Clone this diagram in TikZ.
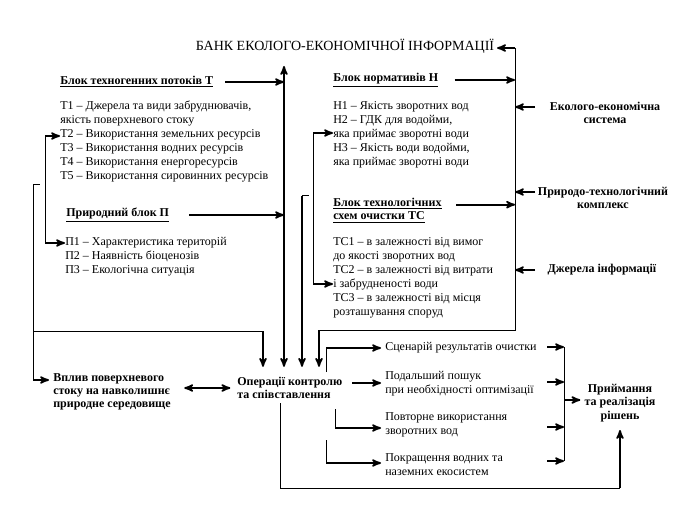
\documentclass[tikz,border=0pt]{standalone}
\usepackage{fontspec}
\setmainfont{Liberation Serif}
\usepackage{tikz}
\usetikzlibrary{arrows,positioning}
\tikzset{
    %Define standard arrow tip
    >=stealth',
    %Define style for plain text blocks
    txt/.style={
           inner sep=0pt,
           align=left,
           font=\fontsize{9}{10.5}\selectfont},
    %Define style for bold blocks
    boldtxt/.style={
           inner sep=0pt,
           align=center,
           font=\fontsize{9}{10}\selectfont\bfseries},
    %Define style for underlined block titles
    head/.style={
           boldtxt,
           align=left},
    % Define line styles
    ln/.style={
           line width=0.75pt},
    pil/.style={
           ->,
           line width=1.3pt},
}

\begin{document}
\begin{tikzpicture}[x=0.75pt,y=-0.75pt]
\useasboundingbox (0,0) rectangle (690,510);
% text blocks
\node[txt, font=\fontsize{10.5}{12}\selectfont, inner sep=2pt](1) at (345,46){БАНК ЕКОЛОГО-ЕКОНОМІЧНОЇ ІНФОРМАЦІЇ};
\node[head, anchor=west](2) at (60,82){\underline{Блок техногенних потоків Т}};
\node[txt, anchor=north west](3) at (60,101){Т1 – Джерела та види забруднювачів,\\якість поверхневого стоку\\Т2 – Використання земельних ресурсів\\Т3 – Використання водних ресурсів\\Т4 – Використання енергоресурсів\\Т5 – Використання сировинних ресурсів};
\node[head, anchor=west](4) at (66,215){\underline{Природний блок П}};
\node[txt, anchor=north west](5) at (65,237){П1 – Характеристика територій\\П2 – Наявність біоценозів\\П3 – Екологічна ситуація};
\node[head, anchor=west](6) at (333,80){\underline{Блок нормативів Н}};
\node[txt, anchor=north west](7) at (333,101){Н1 – Якість зворотних вод\\Н2 – ГДК для водойми,\\яка приймає зворотні води\\Н3 – Якість води водойми,\\яка приймає зворотні води};
\node[head, anchor=north west](8) at (333,198){\underline{Блок технологічних}\\\underline{схем очистки ТС}};
\node[txt, anchor=north west](9) at (333,237){ТС1 – в залежності від вимог\\до якості зворотних вод\\ТС2 – в залежності від витрати\\і забрудненості води\\ТС3 – в залежності від місця\\розташування споруд};
\node[boldtxt](10) at (605,113){Еколого-економічна\\система};
\node[boldtxt](11) at (603,198){Природо-технологічний\\комплекс};
\node[boldtxt](12) at (602,270){Джерела інформації};
\node[head, anchor=west](13) at (53,392){Вплив поверхневого\\стоку на навколишнє\\природне середовище};
\node[head, anchor=west](14) at (237,388){Операції контролю\\та співставлення};
\node[txt, anchor=west](15) at (385,348){Сценарій результатів очистки};
\node[txt, anchor=west](16) at (385,384){Подальший пошук\\при необхідності оптимізації};
\node[txt, anchor=west](17) at (385,425){Повторне використання\\зворотних вод};
\node[txt, anchor=west](18) at (385,465){Покращення водних та\\наземних екосистем};
\node[boldtxt](19) at (620,403){Приймання\\та реалізація\\рішень};

% bus points
\coordinate (bA) at (284,66);
\coordinate (bB) at (515,48);
\coordinate (bC) at (515,330);
\coordinate (bD) at (302,196);
\coordinate (bE) at (33,185);
\coordinate (bF) at (45,136);
\coordinate (bK) at (45,243);
\coordinate (bG) at (313,133);
\coordinate (bM) at (313,284);
\coordinate (bH) at (33,331);
\coordinate (bI) at (263,331);
\coordinate (bJ) at (319,330);
\coordinate (v1) at (49,380);
\path (14.north) ++(0,-10) coordinate (t14);

% main bus
\draw[pil] ([xshift=9pt]2.east) -- (2.east -| bA);
\draw[pil] ([xshift=15pt]4.east) -- (4.east -| bA);
\draw[pil, <->] (bA) -- (bA |- t14);

% right bus
\draw[pil] (bB) -- (bB -| 1.east);
\draw[ln] (bB) -- (bC) -- (bJ);
\draw[pil] (bJ) -- (bJ |- t14);
\draw[pil] ([xshift=12pt]6.east) -- (6.east -| bB);
\draw[pil] ([xshift=11pt,yshift=-5pt]8.north east) -- ([yshift=-5pt]8.north east -| bB);
\coordinate (r1) at (535,107);
\coordinate (r2) at (535,192);
\coordinate (r3) at (535,270);
\foreach \r in {r1,r2,r3}
    \draw[pil] (\r) -- (\r -| bB);

% left brackets
\draw[ln] ([xshift=5pt]bE) -- (bE) -- (bE |- v1);
\draw[pil] (bE |- v1) -- (v1);
\draw[ln] (bH) -- (bI);
\draw[pil] (bI) -- (bI |- t14);
\draw[ln] (bF) -- (bK);
\draw[pil] (bF) -- (bF -| 3.west);
\draw[pil] (bK) -- (bK -| 5.west);
\draw[ln] (bG) -- (bM);
\draw[pil] (bG) -- (bG -| 7.west);
\draw[pil] (bM) -- (bM -| 9.west);
\draw[ln] ([xshift=5pt]bD) -- (bD);
\draw[pil] (bD) -- (bD |- t14);

% Vplyv <-> Operatsii
\path (13.east |- 14.west) coordinate (u);
\draw[pil, <->] ([xshift=10pt]u) -- ([xshift=-5pt]14.west);

% outputs
\coordinate (o1) at (326,372);
\coordinate (o2) at (352,383);
\coordinate (o3) at (335,409);
\coordinate (o4) at (326,440);
\draw[ln] (o1) -- (o1 |- 15.west);
\draw[pil, shorten >=3pt] (o1 |- 15.west) -- (15.west);
\draw[pil, shorten >=3pt] (o2) -- (o2 -| 16.west);
\draw[ln] (o3) -- (o3 |- 0,428);
\draw[pil, shorten >=3pt] (o3 |- 0,428) -- (385,428);
\draw[ln] (o4) -- (o4 |- 0,463);
\draw[pil, shorten >=3pt] (o4 |- 0,463) -- (385,463);

% decision bracket
\foreach \y in {347,382,427,461}
    \draw[pil] (547,\y) -- (564,\y);
\draw[ln] (564,347) -- (564,461);
\draw[pil, shorten >=3pt] (564,400) -- (564,400 -| 19.west);
\coordinate (bR) at (280,403);
\coordinate (bS) at (620,488);
\draw[ln] (bR) |- (bS);
\draw[pil, shorten >=6pt] (bS) -- (19.south);
\end{tikzpicture}
\end{document}
